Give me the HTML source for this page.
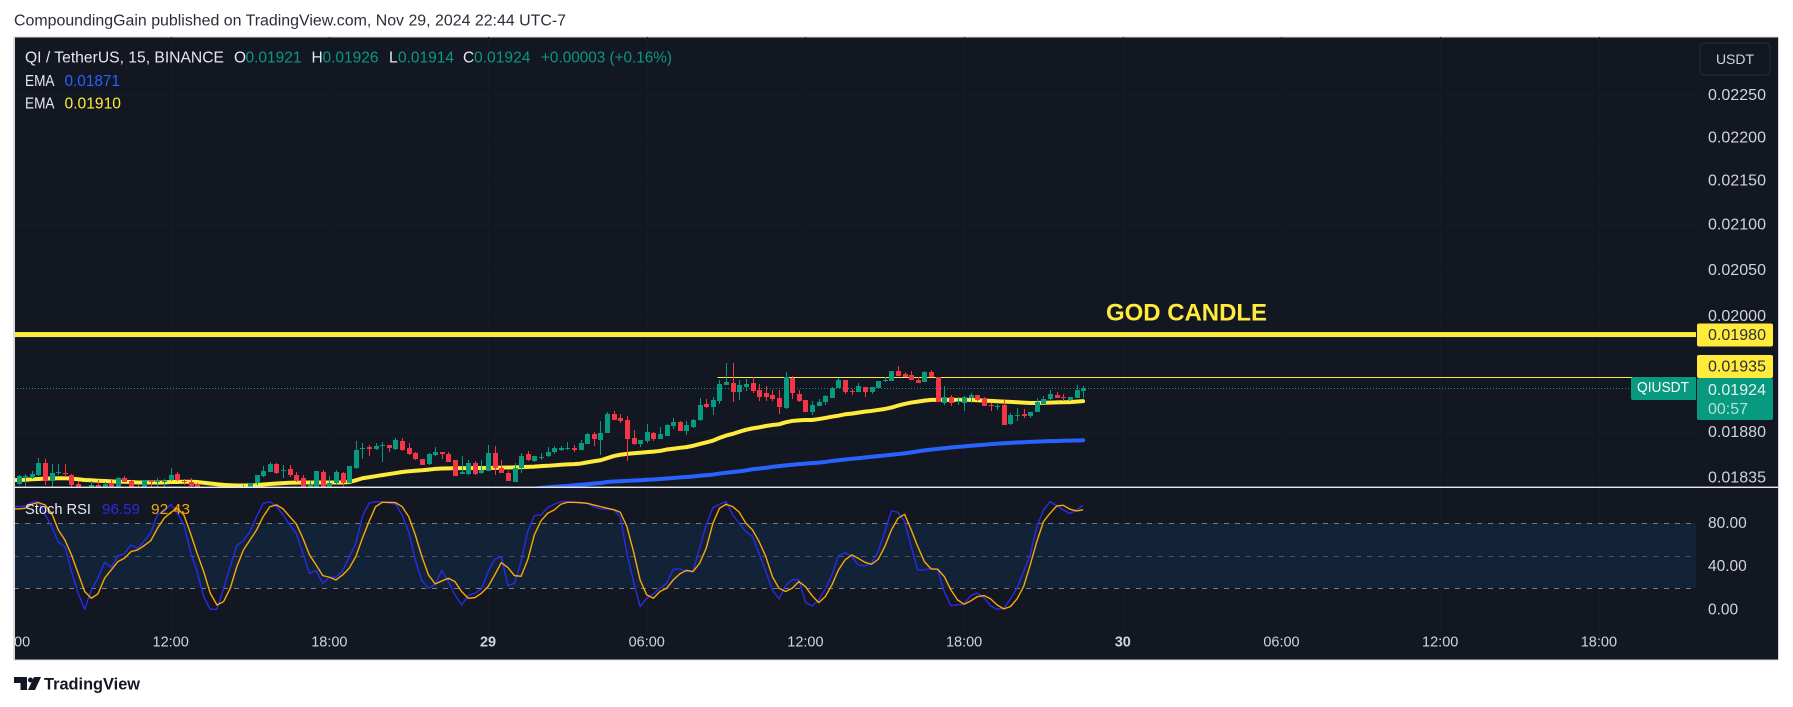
<!DOCTYPE html>
<html lang="en">
<head>
<meta charset="utf-8">
<title>QI / TetherUS chart</title>
<style>
html,body{margin:0;padding:0;background:#fff;width:1793px;height:707px;overflow:hidden}
svg{display:block}
text{font-family:"Liberation Sans",sans-serif}
</style>
</head>
<body>
<svg id="chart" xmlns="http://www.w3.org/2000/svg" width="1793" height="707" viewBox="0 0 1793 707">
  <defs>
    <clipPath id="main-clip"><rect x="14" y="37" width="1682" height="450"/></clipPath>
    <clipPath id="stoch-clip"><rect x="14" y="488" width="1682" height="153"/></clipPath>
    <clipPath id="time-clip"><rect x="15" y="625" width="1682" height="35"/></clipPath>
  </defs>
  <rect width="1793" height="707" fill="#ffffff"/>
  <text x="14" y="21" dominant-baseline="central" font-size="15.5" fill="#2a2e39" textLength="552" lengthAdjust="spacingAndGlyphs">CompoundingGain published on TradingView.com, Nov 29, 2024 22:44 UTC-7</text>
  <rect x="13.5" y="37" width="1765" height="623" fill="#131722" stroke="#d6d8de" stroke-width="1"/>

  <g id="grid"></g>
  <rect x="14" y="523" width="1682" height="65" fill="#132337"/>
  <line x1="14" x2="1696" y1="523.5" y2="523.5" stroke="#787b86" stroke-dasharray="5 6"/>
  <line x1="14" x2="1696" y1="556.5" y2="556.5" stroke="#4f5461" stroke-dasharray="5 6"/>
  <line x1="14" x2="1696" y1="588.5" y2="588.5" stroke="#787b86" stroke-dasharray="5 6"/>

  <g clip-path="url(#main-clip)">
    <g id="levels"></g>
    <g id="emas"></g>
    <g id="candles"></g>
  </g>
  <g clip-path="url(#stoch-clip)" id="stoch"></g>

  <rect x="14" y="486.6" width="1764" height="1.4" fill="#e8e9ec"/>
  <rect x="13" y="37" width="2" height="623" fill="#d9dbe0"/>

  <text x="1106" y="313" dominant-baseline="central" font-size="24" font-weight="bold" fill="#ffeb3b" textLength="161" lengthAdjust="spacingAndGlyphs">GOD CANDLE</text>

  <g>
    <text x="25" y="58" dominant-baseline="central" font-size="15.5" fill="#e6e8ee" textLength="199" lengthAdjust="spacingAndGlyphs">QI / TetherUS, 15, BINANCE</text>
    <text x="234" y="58" dominant-baseline="central" font-size="15.5" fill="#e6e8ee">O</text>
    <text x="245.500" y="58" dominant-baseline="central" font-size="15.5" fill="#089981" textLength="56" lengthAdjust="spacingAndGlyphs">0.01921</text>
    <text x="311.500" y="58" dominant-baseline="central" font-size="15.5" fill="#e6e8ee">H</text>
    <text x="322.500" y="58" dominant-baseline="central" font-size="15.5" fill="#089981" textLength="56" lengthAdjust="spacingAndGlyphs">0.01926</text>
    <text x="389" y="58" dominant-baseline="central" font-size="15.5" fill="#e6e8ee">L</text>
    <text x="398" y="58" dominant-baseline="central" font-size="15.5" fill="#089981" textLength="56" lengthAdjust="spacingAndGlyphs">0.01914</text>
    <text x="463" y="58" dominant-baseline="central" font-size="15.5" fill="#e6e8ee">C</text>
    <text x="474" y="58" dominant-baseline="central" font-size="15.5" fill="#089981" textLength="56.500" lengthAdjust="spacingAndGlyphs">0.01924</text>
    <text x="541" y="58" dominant-baseline="central" font-size="15.5" fill="#089981" textLength="131" lengthAdjust="spacingAndGlyphs">+0.00003 (+0.16%)</text>
    <text x="25" y="81.500" dominant-baseline="central" font-size="15.5" fill="#e6e8ee" textLength="29.500" lengthAdjust="spacingAndGlyphs">EMA</text>
    <text x="64.500" y="81.500" dominant-baseline="central" font-size="15.5" fill="#2962ff" textLength="55.500" lengthAdjust="spacingAndGlyphs">0.01871</text>
    <text x="25" y="104" dominant-baseline="central" font-size="15.5" fill="#e6e8ee" textLength="29.500" lengthAdjust="spacingAndGlyphs">EMA</text>
    <text x="64.500" y="104" dominant-baseline="central" font-size="15.5" fill="#ffeb3b" textLength="56.500" lengthAdjust="spacingAndGlyphs">0.01910</text>
    <text x="25" y="509.500" dominant-baseline="central" font-size="15" fill="#e6e8ee" textLength="66" lengthAdjust="spacingAndGlyphs">Stoch RSI</text>
    <text x="102" y="509.500" dominant-baseline="central" font-size="15" fill="#2a2ae8" textLength="38" lengthAdjust="spacingAndGlyphs">96.59</text>
    <text x="151" y="509.500" dominant-baseline="central" font-size="15" fill="#f9a806" textLength="39" lengthAdjust="spacingAndGlyphs">92.43</text>
  </g>

  <g id="price-axis"></g>
  <g id="stoch-axis"></g>
  <g id="time-axis" clip-path="url(#time-clip)"></g>

  <rect x="1700" y="43" width="70" height="32" rx="4" fill="#131722" stroke="#2a2e39"/>
  <text x="1735" y="59" text-anchor="middle" dominant-baseline="central" font-size="14" fill="#d1d4dc">USDT</text>

  <rect x="1697" y="323.500" width="76" height="23" rx="2" fill="#ffeb3b"/>
  <text x="1708" y="335.500" dominant-baseline="central" font-size="15.5" fill="#2a2e39" textLength="58" lengthAdjust="spacingAndGlyphs">0.01980</text>
  <rect x="1697" y="355" width="76" height="23" rx="2" fill="#ffeb3b"/>
  <text x="1708" y="367" dominant-baseline="central" font-size="15.5" fill="#2a2e39" textLength="58" lengthAdjust="spacingAndGlyphs">0.01935</text>
  <rect x="1697" y="378" width="76" height="42" rx="2" fill="#089981"/>
  <text x="1708" y="390.500" dominant-baseline="central" font-size="15.5" fill="#e4f3f0" textLength="58" lengthAdjust="spacingAndGlyphs">0.01924</text>
  <text x="1708" y="409.500" dominant-baseline="central" font-size="15.5" fill="#b5e0d8" textLength="40" lengthAdjust="spacingAndGlyphs">00:57</text>
  <path d="M1633 377h63v23h-63a2 2 0 0 1-2-2v-19a2 2 0 0 1 2-2z" fill="#089981"/>
  <text x="1637" y="388" dominant-baseline="central" font-size="14.5" fill="#ffffff" textLength="52" lengthAdjust="spacingAndGlyphs">QIUSDT</text>

  <g>
    <path d="M14 677h13v13h-6.500v-7H14z" fill="#131722"/>
    <circle cx="30.500" cy="680" r="2.500" fill="#131722"/>
    <path d="M34 677h7l-6 13h-7z" fill="#131722"/>
    <text x="44" y="684" dominant-baseline="central" font-size="17" font-weight="bold" fill="#131722" textLength="96" lengthAdjust="spacingAndGlyphs">TradingView</text>
  </g>
</svg>
<script>
// Prices are in units of 0.00001 USDT. Bars are 15-minute candles.
const opens = [
1828,1835,1834,1837,1849,1831,1839,1839,1837,1828,
1824,1823,1827,1823,1829,1824,1834,1831,1824,1824,
1831,1830,1830,1832,1838,1831,1830,1828,1823,1820,
1822,1818,1821,1819,1822,1824,1829,1836,1840,1848,
1841,1843,1837,1834,1825,1825,1840,1825,1829,1839,
1829,1844,1863,1865,1863,1866,1867,1863,1871,1864,
1859,1853,1848,1857,1860,1858,1852,1838,1838,1849,
1839,1841,1859,1844,1839,1830,1844,1858,1851,1854,
1856,1860,1862,1863,1864,1862,1868,1878,1872,1879,
1898,1894,1892,1874,1868,1871,1879,1873,1876,1886,
1890,1881,1885,1892,1908,1905,1911,1927,1929,1920,
1925,1929,1922,1919,1917,1914,1904,1935,1918,1912,
1900,1906,1910,1914,1924,1932,1921,1920,1925,1920,
1924,1932,1931,1942,1939,1938,1933,1930,1941,1936,
1909,1915,1910,1909,1914,1917,1914,1907,1905,1907,
1888,1896,1898,1896,1900,1908,1913,1917,1915,1912,
1914,1921];
const highs = [
1837,1838,1841,1854,1853,1848,1848,1848,1838,1831,
1825,1831,1832,1830,1832,1835,1836,1832,1827,1832,
1832,1834,1833,1844,1840,1833,1834,1829,1825,1824,
1824,1823,1824,1824,1827,1829,1837,1846,1850,1849,
1847,1847,1840,1837,1832,1841,1842,1836,1842,1840,
1846,1871,1869,1867,1869,1870,1867,1874,1874,1869,
1860,1853,1859,1865,1860,1860,1852,1856,1852,1851,
1852,1867,1866,1852,1841,1849,1859,1861,1856,1859,
1865,1866,1866,1870,1867,1872,1879,1880,1891,1900,
1901,1898,1896,1882,1872,1888,1880,1885,1888,1894,
1891,1891,1893,1914,1913,1915,1933,1950,1950,1933,
1934,1936,1928,1926,1922,1922,1941,1937,1922,1912,
1911,1913,1917,1925,1935,1932,1923,1929,1925,1925,
1931,1936,1942,1947,1941,1942,1936,1942,1943,1936,
1926,1917,1915,1916,1919,1917,1915,1909,1908,1913,
1899,1904,1903,1900,1914,1916,1922,1920,1918,1915,
1927,1926];
const lows = [
1827,1825,1833,1836,1827,1825,1837,1835,1825,1824,
1820,1821,1820,1822,1822,1823,1830,1823,1822,1823,
1824,1824,1824,1831,1831,1827,1825,1822,1818,1817,
1816,1815,1817,1816,1819,1823,1827,1835,1840,1838,
1834,1835,1830,1824,1824,1824,1824,1824,1828,1825,
1829,1843,1853,1856,1862,1850,1860,1862,1861,1857,
1852,1847,1847,1856,1853,1850,1836,1838,1837,1837,
1838,1841,1837,1839,1831,1830,1839,1851,1850,1852,
1855,1858,1861,1862,1860,1862,1868,1866,1857,1879,
1892,1889,1851,1867,1865,1869,1871,1873,1876,1883,
1881,1877,1884,1891,1904,1897,1908,1927,1910,1912,
1921,1919,1911,1911,1911,1898,1903,1913,1910,1900,
1897,1906,1907,1914,1924,1918,1917,1920,1915,1918,
1924,1930,1931,1937,1936,1932,1929,1930,1936,1910,
1907,1906,1907,1901,1909,1911,1906,1901,1902,1887,
1887,1891,1894,1894,1900,1908,1912,1914,1911,1911,
1914,1914];
const closes = [
1836,1836,1838,1849,1831,1839,1840,1838,1827,1824,
1822,1827,1823,1828,1824,1834,1830,1824,1823,1832,
1830,1831,1831,1837,1832,1830,1826,1823,1820,1822,
1818,1821,1819,1822,1824,1829,1837,1841,1848,1839,
1842,1837,1831,1825,1827,1841,1825,1829,1840,1829,
1846,1862,1864,1863,1866,1867,1864,1872,1862,1858,
1853,1847,1858,1860,1858,1850,1836,1840,1849,1838,
1842,1859,1844,1839,1831,1844,1856,1852,1856,1855,
1860,1864,1864,1864,1862,1869,1878,1873,1879,1898,
1892,1891,1873,1868,1872,1880,1873,1878,1887,1890,
1881,1887,1892,1907,1905,1912,1928,1930,1920,1927,
1928,1921,1915,1915,1913,1905,1936,1919,1911,1900,
1907,1910,1916,1924,1932,1920,1920,1926,1920,1925,
1931,1933,1942,1937,1936,1932,1929,1941,1936,1910,
1915,1909,1911,1915,1917,1912,1906,1906,1906,1887,
1897,1897,1896,1900,1910,1913,1918,1914,1914,1915,
1922,1924];
const emaFast = [
1832.2,1832.5,1832.9,1833.2,1833.6,1833.7,1833.9,1833.9,1833.6,1832.9,
1832.2,1831.9,1831.5,1831.2,1830.8,1830.5,1830.5,1830.2,1829.8,1829.8,
1829.8,1829.8,1829.8,1830.2,1830.2,1830.5,1830.5,1830.2,1829.5,1828.8,
1828.1,1827.4,1827.1,1826.8,1826.8,1826.9,1827.1,1827.8,1828.3,1828.8,
1829.1,1829.5,1829.6,1829.8,1829.8,1829.8,1829.8,1829.8,1829.8,1829.8,
1830.2,1831.9,1833.9,1834.9,1835.9,1837,1838,1839,1840,1840.7,
1841.2,1841.7,1842.4,1843.1,1843.4,1843.6,1843.8,1843.8,1843.8,1844,
1844,1844.1,1844.1,1844.3,1844.4,1844.6,1844.8,1845.1,1845.3,1845.8,
1846.1,1846.6,1847.2,1847.5,1847.8,1848.3,1849.5,1850.6,1851.6,1853.6,
1855.7,1857,1857.9,1858.5,1859,1859.6,1860.1,1860.8,1862.2,1863,
1863.9,1864.6,1865.9,1867.6,1869.3,1871,1873.8,1876.1,1877.8,1879.9,
1881.9,1883.3,1884.3,1885.7,1886.7,1887.4,1889.4,1890.8,1891.4,1891.8,
1891.7,1892.7,1893.8,1895.1,1896.1,1897.5,1898.2,1899.2,1900.2,1900.9,
1901.9,1902.9,1904.3,1906.3,1908,1909.4,1910.4,1911.4,1912.1,1912.1,
1912.1,1912.1,1912.1,1912.1,1912.1,1911.8,1911.4,1911.1,1910.8,1910.4,
1910.1,1909.7,1909.4,1909,1909,1909.2,1909.4,1909.6,1909.7,1909.9,
1910.4,1910.9];
const emaSlowFirstBar = 70;
const emaSlow = [
1819.5,1820,1820.5,1821,1821.5,1822,1822.8,1823.3,1823.8,1824.5,
1825,1825.6,1826,1826.5,1827,1827.6,1828.1,1828.8,1829.3,1830.2,
1830.7,1831,1831.4,1831.7,1832,1832.4,1832.7,1833.2,1833.7,1834.2,
1834.7,1835.1,1835.6,1836.3,1837,1837.5,1838.5,1839.3,1840,1840.7,
1841.6,1842.7,1843.4,1844.1,1845.1,1845.8,1846.5,1847.2,1847.8,1848.2,
1848.7,1849.2,1849.9,1850.9,1851.6,1852.3,1853,1853.6,1854.3,1855,
1855.7,1856.3,1857,1857.7,1858.4,1859.4,1860.4,1861.4,1862.1,1862.8,
1863.5,1864.2,1864.8,1865.3,1865.9,1866.5,1866.9,1867.5,1868,1868.4,
1868.8,1869.2,1869.5,1869.8,1870.1,1870.3,1870.5,1870.7,1870.9,1871,
1871.2,1871.4];
const stochK = [
95.4,96,99.4,100,88.3,77,62.5,58.5,35.4,15.4,
.6,18.5,29.3,44,39.4,49.9,52,60,56.9,63.7,
71.4,88.3,90.8,97.6,89.3,78.5,53.9,35.4,12.3,.6,
.6,20,40,59.4,64,72.3,86.2,98.5,100,95.4,
87.7,78.5,70.8,52.3,33.9,36.3,24.6,30.2,30.2,36.3,
48.6,61.6,86.2,98.5,100,100,98.5,97.9,87.7,72.3,
46.2,27.1,20,23.7,36.3,26.2,13.9,4.6,13.3,15.4,
19.4,35.4,46.8,49.3,22.5,24.6,44.6,72.3,87.1,87.7,
94.5,97.6,100,100,99.4,98.5,98.5,95.4,93.3,93.3,
92.3,86.2,52.3,26.2,3.1,10.8,14.8,20,24.6,37.6,
37.9,35.4,35.4,56.9,78.5,94.5,97.6,100,87.7,80,
72.3,67.7,52.3,35.4,18.5,10.2,22.5,28,28,7.1,
3.7,9.3,19.4,32.3,50.2,52.9,49.3,41.6,40.6,43.1,
53.9,72.3,91.4,90.2,81.6,58.5,37,37,38.5,37,
17,4,4.6,5.6,13.3,15.7,11.4,3.7,.6,1.6,
10.2,20,35.4,50.8,77,92.3,100,96.3,92.3,89,
92.3,96.59];
const stochD = [
93.3,93.9,97.6,99.1,97,89.3,73.9,64.6,50.8,33.9,
17,10.8,14.8,29.3,37,44.6,47.7,53.9,55.4,59.4,
64,75.4,84.6,89.9,93.9,87.7,70.8,52.3,35.4,15.4,
4.6,7.7,20,40,55.4,64.6,73.9,86.2,95.4,97,
93.3,86.2,79.4,66.2,50.8,41.6,31.7,30.2,27.7,32.3,
38.5,49.3,66.2,81.6,95.4,99.4,99.4,99.1,95.4,86.2,
69.3,49.3,32.3,24,26.8,29.3,26.2,17,10.8,11.4,
15.4,21.6,32.3,43.7,39.1,31.7,31.1,46.2,69.3,82.2,
89.3,92.3,97.6,99.4,99.4,99.1,98.5,97,95.4,93.9,
92.6,90.2,77,53.9,27.7,13.9,10.8,17,20,27.7,
33.3,36.6,35.4,43.1,56.9,80,93.9,97.6,95.4,90.2,
80,73.9,63.1,49.3,30.8,20,17,20,26.2,21.6,
13.3,6.8,12.3,23.1,37,46.2,50.8,47.7,44,42.2,
46.8,58.5,73.9,84.6,88.3,73.9,58.5,44.6,37.9,37.6,
30.8,18.5,9.3,5.3,8.3,12.3,13.3,10.2,4.6,1,
3.1,10.2,21.6,41.6,63.1,81.6,89.3,96,96.6,93,
91.4,92.43];
const priceTickValues = [2250,2200,2150,2100,2050,2000,1880,1835];
const stochTickValues = [80,40,0];
const timeTickBars = [-1,23,47,71,95,119,143,167,191,215,239];
const timeTickLabels = ['06:00','12:00','18:00','29','06:00','12:00','18:00','30','06:00','12:00','18:00'];
const boldTimeLabels = ['29','30'];
const godCandleLevel = 1980;
const resistanceLevel = 1935;
const resistanceStartBar = 106;
const lastPrice = 1924;

const NS = 'http://www.w3.org/2000/svg';
const xScale = i => 18.6 + 6.612 * i;
const yPrice = p => 315.6 + 1876 * Math.log(2000 / p);
const yStoch = v => 588.3 - (v - 20) * 1.0833;
const PANE_LEFT = 14, PANE_RIGHT = 1696;

function node(parent, tag, attrs, content) {
  const el = document.createElementNS(NS, tag);
  for (const k in attrs) el.setAttribute(k, attrs[k]);
  if (content !== undefined) el.textContent = content;
  parent.appendChild(el);
  return el;
}
function linePath(values, firstBar, yFn) {
  let d = 'M' + (firstBar === 0 ? PANE_LEFT : xScale(firstBar)).toFixed(1) + ' ' + yFn(values[0]).toFixed(2);
  values.forEach((v, k) => { d += 'L' + xScale(firstBar + k).toFixed(1) + ' ' + yFn(v).toFixed(2); });
  return d;
}

const grid = document.getElementById('grid');
timeTickBars.forEach(b => {
  const x = Math.round(xScale(b)) + 0.5;
  if (x < PANE_LEFT) return;
  const ln = node(grid, 'line', {x1: x, x2: x, y1: 37, y2: 641, stroke: '#171b26'});
  
  
});
priceTickValues.forEach(p => {
  const y = Math.round(yPrice(p)) + 0.5;
  const ln = node(grid, 'line', {x1: PANE_LEFT, x2: PANE_RIGHT, y1: y, y2: y, stroke: '#171b26'});
  
  
});

const levels = document.getElementById('levels');
const godLine = node(levels, 'rect', {x: PANE_LEFT, y: yPrice(godCandleLevel) - 2.4, width: PANE_RIGHT - PANE_LEFT, height: 5, fill: '#ffeb3b'});


const resLine = node(levels, 'rect', {x: xScale(resistanceStartBar) - 2, y: Math.round(yPrice(resistanceLevel) - 0.6), width: PANE_RIGHT - xScale(resistanceStartBar) + 2, height: 1, fill: '#ffeb3b'});


const lastLine = node(levels, 'line', {x1: PANE_LEFT, x2: 1631, y1: Math.round(yPrice(lastPrice)) + 0.5, y2: Math.round(yPrice(lastPrice)) + 0.5, stroke: '#089981', 'stroke-dasharray': '1 2'});



const emas = document.getElementById('emas');
const emaSlowLine = node(emas, 'path', {d: linePath(emaSlow, emaSlowFirstBar, yPrice), fill: 'none', stroke: '#2962ff', 'stroke-width': 4, 'stroke-linecap': 'round', 'stroke-linejoin': 'round'});


const emaFastLine = node(emas, 'path', {d: linePath(emaFast, 0, yPrice), fill: 'none', stroke: '#ffeb3b', 'stroke-width': 4, 'stroke-linecap': 'round', 'stroke-linejoin': 'round'});



const candles = document.getElementById('candles');
opens.forEach((o, i) => {
  const c = closes[i], up = c >= o;
  const color = up ? '#089981' : '#f23645';
  const cx = Math.round(xScale(i));
  const top = Math.round(yPrice(Math.max(o, c)));
  const bottom = Math.round(yPrice(Math.min(o, c)));
  const wy1 = Math.round(yPrice(highs[i]));
  const wy2 = Math.round(yPrice(lows[i]));
  const wick = node(candles, 'rect', {x: cx, y: wy1, width: 1, height: Math.max(1, wy2 - wy1), fill: color});
  
  
  const body = node(candles, 'rect', {x: cx - 2, y: top, width: 5, height: Math.max(1, bottom - top), fill: color});
  
  
});

const stoch = document.getElementById('stoch');
const kLine = node(stoch, 'path', {d: linePath(stochK, 0, yStoch), fill: 'none', stroke: '#2a2ae8', 'stroke-width': 1.4, 'stroke-linejoin': 'round'});


const dLine = node(stoch, 'path', {d: linePath(stochD, 0, yStoch), fill: 'none', stroke: '#f9a806', 'stroke-width': 1.4, 'stroke-linejoin': 'round'});



const priceAxis = document.getElementById('price-axis');
priceTickValues.forEach(p => {
  const t = node(priceAxis, 'text', {x: 1708, y: yPrice(p) + 1, 'dominant-baseline': 'central', 'font-size': 15.5, fill: '#d1d4dc', textLength: 58, lengthAdjust: 'spacingAndGlyphs'}, (p / 100000).toFixed(5));
  
  
});
const stochAxis = document.getElementById('stoch-axis');
stochTickValues.forEach(v => {
  const t = node(stochAxis, 'text', {x: 1708, y: yStoch(v), 'dominant-baseline': 'central', 'font-size': 15.5, fill: '#d1d4dc'}, v.toFixed(2));
  
  
});
const timeAxis = document.getElementById('time-axis');
timeTickBars.forEach((b, k) => {
  const label = timeTickLabels[k];
  const t = node(timeAxis, 'text', {x: xScale(b), y: 642.5, 'text-anchor': 'middle', 'dominant-baseline': 'central', 'font-size': 14.5, fill: '#d1d4dc', 'font-weight': boldTimeLabels.includes(label) ? 'bold' : 'normal'}, label);
  
  
});
</script>
</body>
</html>
